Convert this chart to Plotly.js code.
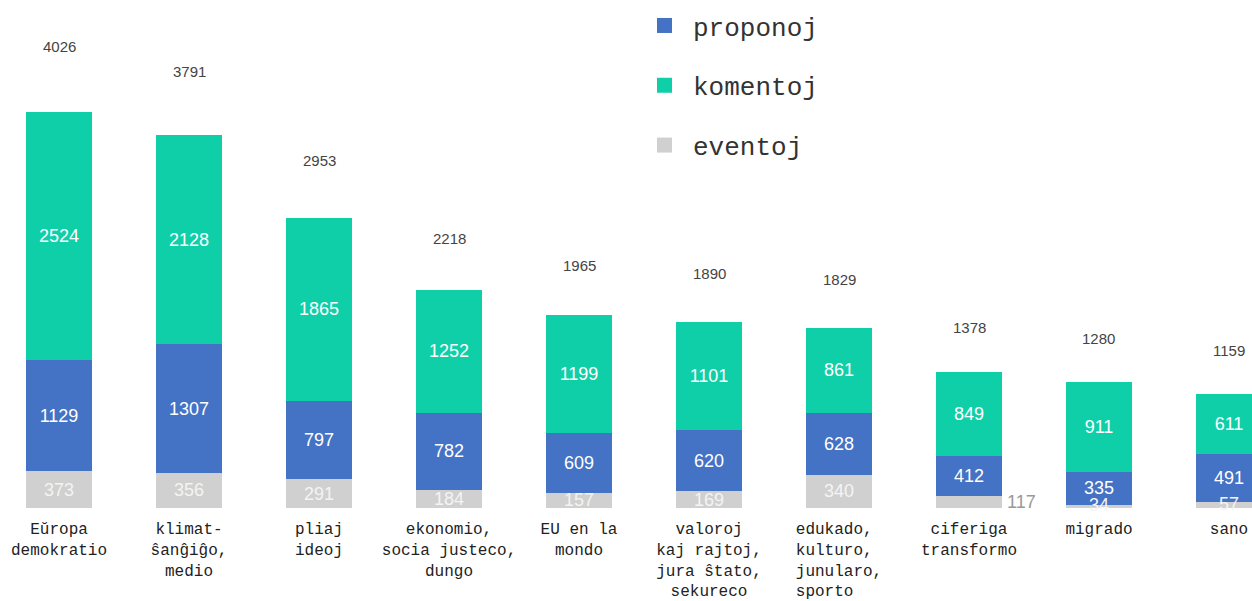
<!DOCTYPE html>
<html>
<head>
<meta charset="utf-8">
<script src="https://cdn.plot.ly/plotly-3.0.1.min.js"></script>
<style>html,body{margin:0;padding:0;background:#fff;}#chart{width:1252px;height:601px;}</style>
</head>
<body>
<div id="chart"></div>
<script>
const categories = [
  "Eŭropa<br>demokratio",
  "klimat-<br>ŝanĝiĝo,<br>medio",
  "pliaj<br>ideoj",
  "ekonomio,<br>socia justeco,<br>dungo",
  "EU en la<br>mondo",
  "valoroj<br>kaj rajtoj,<br>jura ŝtato,<br>sekureco",
  "edukado,\u00a0<br>kulturo,\u00a0<br>junularo,<br>sporto\u00a0\u00a0\u00a0",
  "ciferiga<br>transformo",
  "migrado",
  "sano"
];
const proponoj = [1129, 1307, 797, 782, 609, 620, 628, 412, 335, 491];
const komentoj = [2524, 2128, 1865, 1252, 1199, 1101, 861, 849, 911, 611];
const eventoj  = [373, 356, 291, 184, 157, 169, 340, 117, 34, 57];
const totals   = [4026, 3791, 2953, 2218, 1965, 1890, 1829, 1378, 1280, 1159];
const outsideLabelIndex = 7; // eventoj label drawn beside the bar

const C_BLUE = "#4472C4", C_GREEN = "#0FCFA9", C_GRAY = "#D0D0D0";
const SANS = "Liberation Sans, Arial, sans-serif";
const MONO = "Liberation Mono, Courier New, monospace";
const barText = {family: SANS, size: 18, color: "#ffffff"};

function bar(name, vals, color, withText) {
  const t = {
    type: "bar", name: name, x: categories, y: vals,
    marker: {color: color}, showlegend: false, hoverinfo: "x+y+name"
  };
  if (withText) {
    Object.assign(t, {text: vals.map(String), textposition: "inside", insidetextanchor: "middle",
      constraintext: "none", textangle: 0, textfont: barText, insidetextfont: barText});
  } else {
    t.textposition = "none";
  }
  return t;
}

const traces = [
  bar("eventoj", eventoj, C_GRAY, false),
  bar("proponoj", proponoj, C_BLUE, true),
  bar("komentoj", komentoj, C_GREEN, true)
];
// legend entries
[["proponoj", C_BLUE, 1], ["komentoj", C_GREEN, 2], ["eventoj", C_GRAY, 3]].forEach(([n, c, r]) => {
  traces.push({type: "scatter", mode: "markers", name: n, x: [null], y: [null],
    marker: {symbol: "square", size: 15, color: c}, legendgroup: n, legendrank: r, showlegend: true});
});

const annotations = totals.map((t, i) => ({
  x: categories[i], y: t, xref: "x", yref: "y", text: String(t), showarrow: false,
  yshift: 34 + t * 0.0078, font: {family: SANS, size: 15, color: "#444"}
}));
eventoj.forEach((v, i) => {
  if (i === outsideLabelIndex) {
    annotations.push({x: categories[i], y: v / 2, xref: "x", yref: "y", text: String(v), showarrow: false,
      xshift: 52, font: {family: SANS, size: 18, color: "#999"}});
  } else {
    annotations.push({x: categories[i], y: v / 2, xref: "x", yref: "y", text: String(v), showarrow: false,
      yshift: v < 100 ? 1 : 0, font: {family: SANS, size: 18, color: "#f4f4f4"}});
  }
});

const layout = {
  width: 1252, height: 601,
  margin: {l: 0, r: 0, t: 0, b: 84},
  paper_bgcolor: "#fff", plot_bgcolor: "#fff",
  barmode: "stack", bargap: 0.485,
  xaxis: {type: "category", range: [-0.454, 9.177], showgrid: false, zeroline: false, showline: false,
    ticks: "", tickfont: {family: MONO, size: 16, color: "#222"},
    ticklabelstandoff: 0, fixedrange: true},
  yaxis: {range: [-92, 5165], visible: false, showgrid: false, zeroline: false, fixedrange: true},
  showlegend: true,
  legend: {x: 0.508, xanchor: "left", y: 0.996, yanchor: "top", traceorder: "grouped",
    tracegroupgap: 23, itemwidth: 47, bgcolor: "rgba(0,0,0,0)",
    font: {family: MONO, size: 26, color: "#333"}},
  annotations: annotations
};
Plotly.newPlot("chart", traces, layout, {displayModeBar: false, staticPlot: true});
</script>
</body>
</html>
